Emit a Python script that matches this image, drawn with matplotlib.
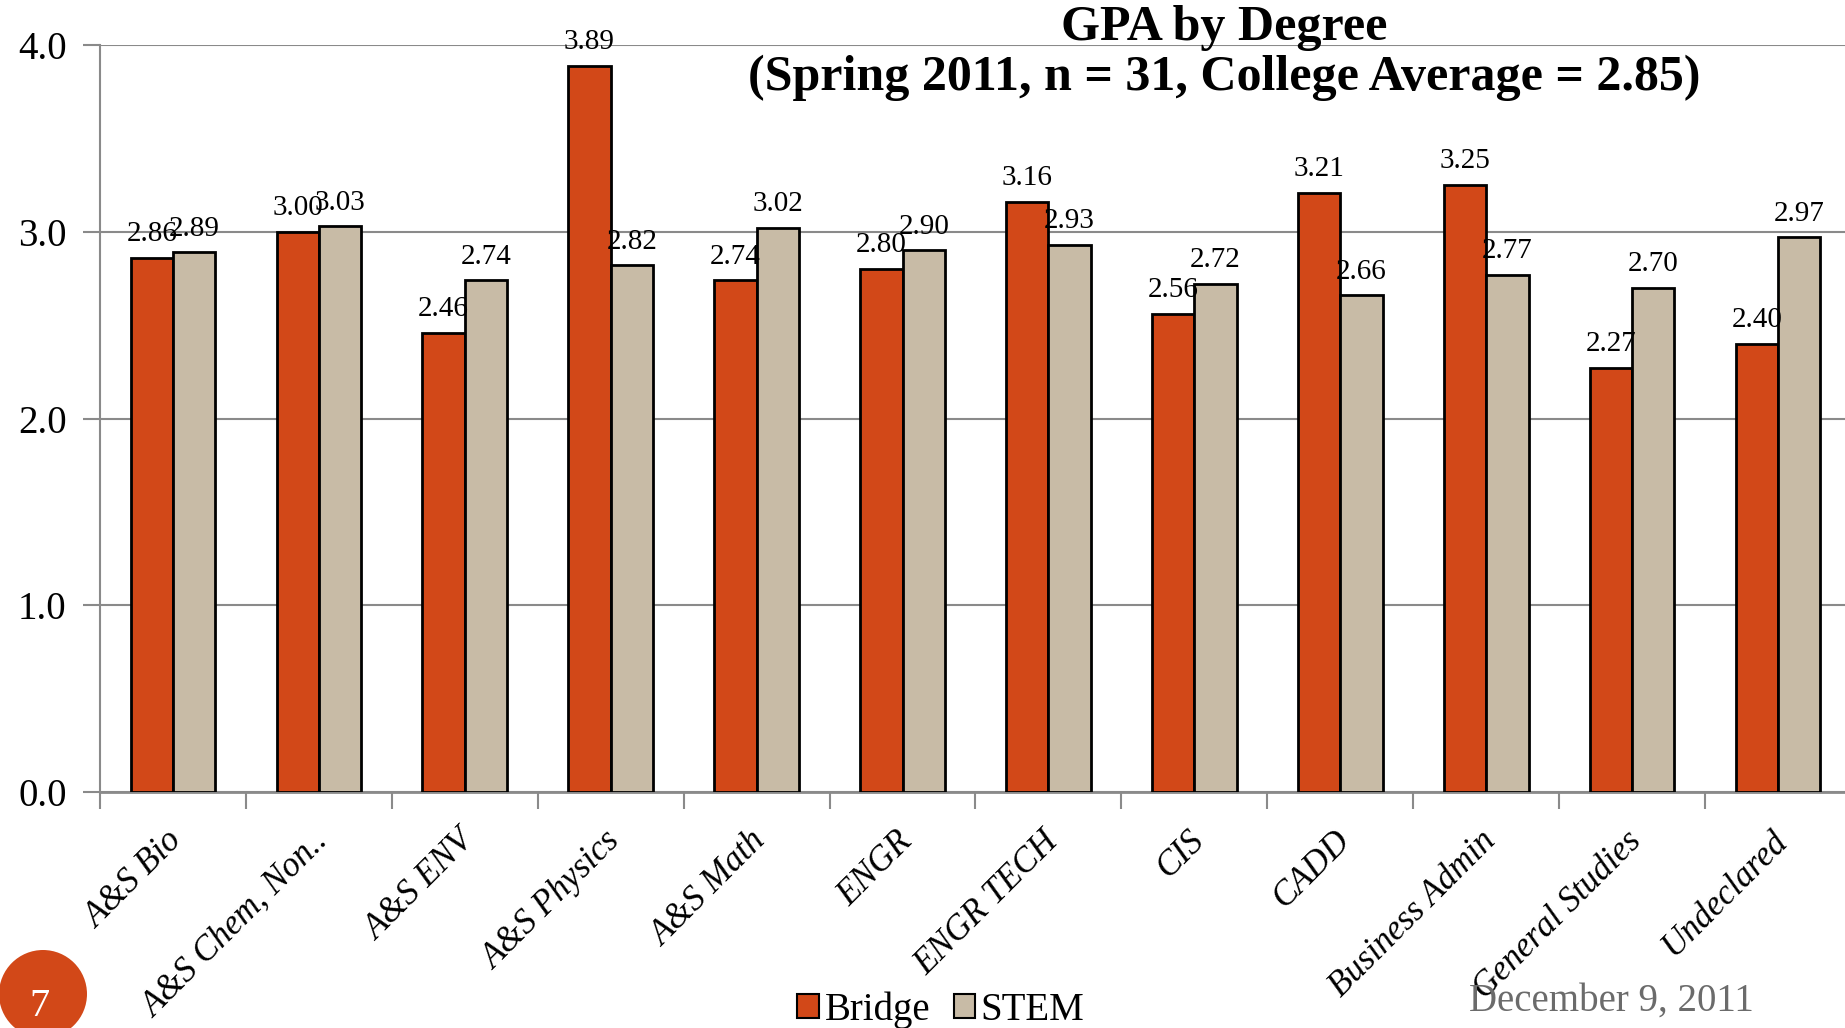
import matplotlib
matplotlib.use("Agg")
import matplotlib.pyplot as plt
import matplotlib.transforms as mtransforms
import numpy as np
from matplotlib.patches import Rectangle, Ellipse

categories = ["A&S Bio", "A&S Chem, Non..", "A&S ENV", "A&S Physics", "A&S Math",
              "ENGR", "ENGR TECH", "CIS", "CADD", "Business Admin",
              "General Studies", "Undeclared"]
bridge = [2.86, 3.00, 2.46, 3.89, 2.74, 2.80, 3.16, 2.56, 3.21, 3.25, 2.27, 2.40]
stem = [2.89, 3.03, 2.74, 2.82, 3.02, 2.90, 2.93, 2.72, 2.66, 2.77, 2.70, 2.97]
yticks = [0.0, 1.0, 2.0, 3.0, 4.0]
series_names = ["Bridge", "STEM"]

C_BRIDGE = "#D24818"
C_STEM = "#C8BBA6"
GRID = "#8a8a8a"
FONT = "Liberation Serif"

W, H = 1845, 1028
fig = plt.figure(figsize=(W / 100, H / 100), dpi=100)
left, right, bottom, top = 100, 1851, 792, 45
ax = fig.add_axes([left / W, 1 - bottom / H, (right - left) / W, (bottom - top) / H])

x = np.arange(len(categories))
bw = 0.29
b1 = ax.bar(x - bw / 2, bridge, bw, color=C_BRIDGE, edgecolor="black", linewidth=2, zorder=3)
b2 = ax.bar(x + bw / 2, stem, bw, color=C_STEM, edgecolor="black", linewidth=2, zorder=3)

for bars, vals in ((b1, bridge), (b2, stem)):
    for r, v in zip(bars, vals):
        ax.annotate(f"{v:.2f}", (r.get_x() + r.get_width() / 2, v), xytext=(0, 17),
                    textcoords="offset points", ha="center", va="center",
                    fontsize=21, family=FONT, color="black", zorder=4)

ax.set_xlim(-0.5, len(categories) - 0.5)
ax.set_ylim(0, 4)
ax.set_yticks(yticks)
ax.set_yticklabels([f"{t:.1f}" for t in yticks], family=FONT, fontsize=28)
ax.yaxis.grid(True, color=GRID, linewidth=1.5, zorder=0)
ax.tick_params(axis="y", length=12, color=GRID, width=1.5, pad=12)

ax.set_xticks(x)
ax.set_xticklabels(categories, rotation=45, ha="right", rotation_mode="anchor",
                   family=FONT, style="italic", fontsize=25)
ax.tick_params(axis="x", length=0, pad=25)
shift = mtransforms.ScaledTranslation(-7 / 100, 2 / 100, fig.dpi_scale_trans)
for lbl in ax.get_xticklabels():
    lbl.set_transform(lbl.get_transform() + shift)
ax.set_xticks(np.arange(len(categories)) - 0.5, minor=True)
ax.tick_params(axis="x", which="minor", length=12, color=GRID, width=1.5)

for s in ("top", "right"):
    ax.spines[s].set_visible(False)
ax.spines["left"].set_color(GRID)
ax.spines["left"].set_linewidth(1.5)
ax.spines["bottom"].set_color(GRID)
ax.spines["bottom"].set_linewidth(2)
ax.spines["left"].set_zorder(1)

fig.text(1224 / W, 1 - 28 / H, "GPA by Degree", ha="center", va="center",
         fontsize=36, fontweight="bold", family=FONT)
fig.text(1224 / W, 1 - 78 / H, "(Spring 2011, n = 31, College Average = 2.85)",
         ha="center", va="center", fontsize=36, fontweight="bold", family=FONT)

handles = [Rectangle((0, 0), 1, 1, facecolor=C_BRIDGE, edgecolor="black", linewidth=1.5),
           Rectangle((0, 0), 1, 1, facecolor=C_STEM, edgecolor="black", linewidth=1.5)]
fig.legend(handles, series_names, loc="center", bbox_to_anchor=(941 / W, 1 - 1010 / H),
           ncol=2, frameon=False, prop={"family": FONT, "size": 28},
           handlelength=0.55, handleheight=0.55, handletextpad=0.15, columnspacing=0.6)

r = 44
fig.add_artist(Ellipse((43 / W, 1 - 994 / H), 2 * r / W, 2 * r / H,
                       transform=fig.transFigure, facecolor=C_BRIDGE, edgecolor="none"))
fig.text(39 / W, 1 - 1006 / H, "7", ha="center", va="center", color="white",
         fontsize=29, family=FONT)
fig.text(1611 / W, 1 - 1001 / H, "December 9, 2011", ha="center", va="center",
         color="#6b6b6b", fontsize=28, family=FONT)

fig.savefig("out.png", dpi=100)
